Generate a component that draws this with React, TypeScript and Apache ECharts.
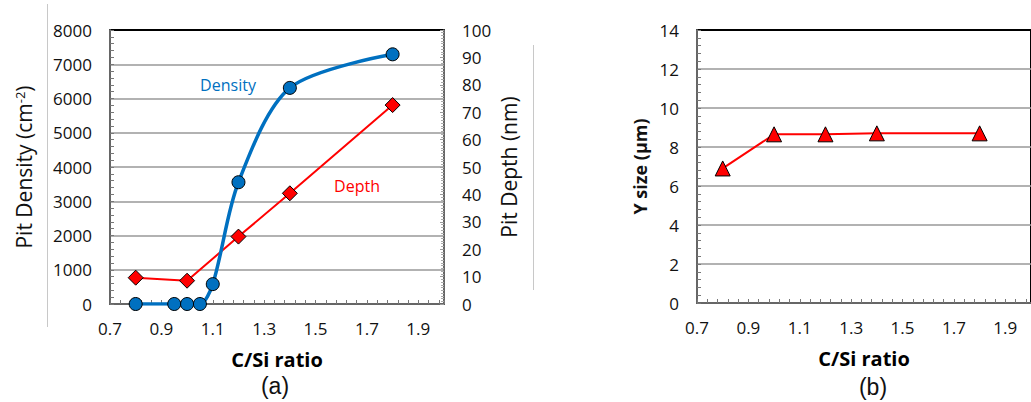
import React, { useEffect, useRef } from "react";
import * as echarts from "echarts";

const densityX = [0.8, 0.95, 1.0, 1.05, 1.1, 1.2, 1.4, 1.8];
const densityY = [0, 0, 0, 0, 580, 3555, 6310, 7290];
const depthX = [0.8, 1.0, 1.2, 1.4, 1.8];
const depthY = [9.6, 8.5, 24.6, 40.4, 72.6];
const ySizeX = [0.8, 1.0, 1.2, 1.4, 1.8];
const ySizeY = [6.9, 8.65, 8.65, 8.7, 8.7];

const FONT = "Open Sans";

function pairs(xs: number[], ys: number[]) {
  return xs.map((x, i) => [x, ys[i]]);
}

export default function App() {
  const ref = useRef<HTMLDivElement>(null);
  useEffect(() => {
    if (!ref.current) return;
    const chart = echarts.init(ref.current, undefined, { renderer: "svg" });
    const xAxisCommon = (gridIndex: number) => ({
      type: "value",
      gridIndex,
      min: 0.7,
      max: 2.0,
      interval: 0.2,
      name: "C/Si ratio",
      nameLocation: "middle",
      nameGap: 45,
      nameTextStyle: { fontFamily: FONT, fontSize: 20, fontWeight: "bold", color: "#000" },
      axisLine: { show: true, onZero: false, lineStyle: { color: "#666", width: 2 } },
      axisTick: { show: true, inside: true, length: 4, lineStyle: { color: "#777" } },
      minorTick: { show: true, splitNumber: 5, length: 4, lineStyle: { color: "#777" } },
      splitLine: { show: false },
      axisLabel: {
        fontFamily: FONT,
        fontSize: 17,
        color: "#111",
        margin: 16,
        showMaxLabel: false,
        formatter: (v: number) => v.toFixed(1),
      },
    });
    chart.setOption({
      animation: false,
      backgroundColor: "#fff",
      grid: [
        { left: 110, top: 30, width: 334, height: 274, show: true, borderColor: "#000", borderWidth: 2, backgroundColor: "#fff" },
        { left: 697, top: 30, width: 337, height: 273, show: true, borderColor: "#000", borderWidth: 2, backgroundColor: "#fff" },
      ],
      xAxis: [xAxisCommon(0), xAxisCommon(1)],
      yAxis: [
        {
          type: "value",
          gridIndex: 0,
          min: 0,
          max: 8000,
          interval: 1000,
          name: "Pit Density (cm{sup|-2})",
          nameLocation: "middle",
          nameGap: 76,
          nameTextStyle: {
            fontFamily: FONT,
            fontSize: 21,
            color: "#111",
            rich: {
              sup: { fontFamily: FONT, fontSize: 13, verticalAlign: "top", lineHeight: 14, color: "#111" },
            },
          },
          axisLine: { show: true, lineStyle: { color: "#666", width: 2 } },
          axisTick: { show: true, inside: true, length: 4, lineStyle: { color: "#777" } },
          minorTick: { show: true, splitNumber: 5, length: 4, lineStyle: { color: "#777" } },
          splitLine: { show: true, showMaxLine: false, lineStyle: { color: "#999", width: 1.5 } },
          axisLabel: { fontFamily: FONT, fontSize: 17, color: "#111", margin: 18, formatter: (v: number) => String(v) },
        },
        {
          type: "value",
          gridIndex: 0,
          position: "right",
          min: 0,
          max: 100,
          interval: 10,
          name: "Pit Depth (nm)",
          nameLocation: "middle",
          nameGap: 54,
          nameRotate: 90,
          nameTextStyle: { fontFamily: FONT, fontSize: 21, color: "#111" },
          axisLine: { show: true, lineStyle: { color: "#888", width: 1.5 } },
          axisTick: { show: true, inside: true, length: 4, lineStyle: { color: "#999" } },
          minorTick: { show: true, splitNumber: 10, length: 3, lineStyle: { color: "#aaa" } },
          splitLine: { show: false },
          axisLabel: { fontFamily: FONT, fontSize: 17, color: "#111", margin: 18 },
        },
        {
          type: "value",
          gridIndex: 1,
          min: 0,
          max: 14,
          interval: 2,
          name: "Y size (μm)",
          nameLocation: "middle",
          nameGap: 48,
          nameTextStyle: { fontFamily: FONT, fontSize: 18, fontWeight: "bold", color: "#111" },
          axisLine: { show: true, lineStyle: { color: "#666", width: 2 } },
          axisTick: { show: true, inside: true, length: 4, lineStyle: { color: "#777" } },
          minorTick: { show: true, splitNumber: 5, length: 4, lineStyle: { color: "#777" } },
          splitLine: { show: true, showMaxLine: false, lineStyle: { color: "#999", width: 1.5 } },
          axisLabel: { fontFamily: FONT, fontSize: 17, color: "#111", margin: 18 },
        },
      ],
      series: [
        {
          type: "line",
          name: "Depth",
          xAxisIndex: 0,
          yAxisIndex: 1,
          data: pairs(depthX, depthY),
          symbol: "diamond",
          symbolSize: 15,
          lineStyle: { color: "#ff0000", width: 2 },
          itemStyle: { color: "#ff0000", borderColor: "#000", borderWidth: 1 },
          z: 3,
        },
        {
          type: "line",
          name: "Density",
          xAxisIndex: 0,
          yAxisIndex: 0,
          data: pairs(densityX, densityY),
          smooth: 0.3,
          symbol: "circle",
          symbolSize: 13,
          lineStyle: { color: "#0070c0", width: 3.5 },
          itemStyle: { color: "#0070c0", borderColor: "#000", borderWidth: 1 },
          z: 4,
        },
        {
          type: "line",
          name: "Y size",
          xAxisIndex: 1,
          yAxisIndex: 2,
          data: pairs(ySizeX, ySizeY),
          symbol: "triangle",
          symbolSize: 15,
          lineStyle: { color: "#ff0000", width: 2 },
          itemStyle: { color: "#ff0000", borderColor: "#000", borderWidth: 1 },
          z: 3,
        },
      ],
      graphic: [
        { type: "line", shape: { x1: 47.5, y1: 4, x2: 47.5, y2: 327 }, style: { stroke: "#c8c8c8", lineWidth: 1 } },
        { type: "line", shape: { x1: 533.5, y1: 45, x2: 533.5, y2: 290 }, style: { stroke: "#c8c8c8", lineWidth: 1 } },
        { type: "text", x: 228, y: 85, style: { text: "Density", fill: "#0070c0", font: `16px "${FONT}"`, align: "center", verticalAlign: "middle" } },
        { type: "text", x: 357, y: 186, style: { text: "Depth", fill: "#ff0000", font: `16px "${FONT}"`, align: "center", verticalAlign: "middle" } },
        { type: "text", x: 275, y: 386, style: { text: "(a)", fill: "#111", font: `23px "Liberation Sans"`, align: "center", verticalAlign: "middle" } },
        { type: "text", x: 873, y: 387, style: { text: "(b)", fill: "#111", font: `23px "Liberation Sans"`, align: "center", verticalAlign: "middle" } },
      ],
    });
    return () => chart.dispose();
  }, []);
  return <div ref={ref} style={{ position: "fixed", left: 0, top: 0, width: 1031, height: 402 }} />;
}
